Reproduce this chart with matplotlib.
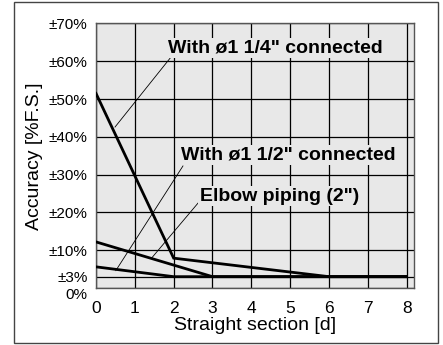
import matplotlib.pyplot as plt
from matplotlib.patches import Rectangle
from matplotlib.transforms import ScaledTranslation

plt.rcParams['font.family'] = ['Liberation Sans', 'DejaVu Sans']

# data
x_14 = [0, 2, 6, 8]
acc_14 = [51.5, 7.9, 3, 3]        # with ø1 1/4" connected
x_12 = [0, 2, 8]
acc_12 = [5.6, 3, 3]              # with ø1 1/2" connected
x_elbow = [0, 3, 8]
acc_elbow = [12.2, 3, 3]          # elbow piping (2")

xticks = list(range(9))
yticks = [0, 3, 10, 20, 30, 40, 50, 60, 70]
ytick_labels = ['0%', '±3%', '±10%', '±20%', '±30%', '±40%', '±50%', '±60%', '±70%']

# labels: text, text position, leader start, leader end
labels = [
    ('With ø1 1/4" connected', (1.855, 62.4), (0.49, 42.6), (1.93, 61.1)),
    ('With ø1 1/2" connected', (2.19, 34.0), (0.51, 4.6), (2.24, 32.3)),
    ('Elbow piping (2")', (2.68, 23.1), (1.43, 7.9), (2.63, 22.5)),
]

bg = '#e8e8e8'

fig = plt.figure(figsize=(4.43, 3.45), dpi=100)
ax = fig.add_axes([0.2167, 0.1652, 0.7178, 0.7667])
ax.set_facecolor(bg)

for xs, ys in [(x_14, acc_14), (x_12, acc_12), (x_elbow, acc_elbow)]:
    ax.plot(xs, ys, color='black', lw=2.0, solid_joinstyle='miter', zorder=3)

for text, tpos, p0, p1 in labels:
    ax.plot([p0[0], p1[0]], [p0[1], p1[1]], color='black', lw=0.6, zorder=3)
    ax.text(tpos[0], tpos[1], text, fontsize=14, fontweight='bold',
            ha='left', va='baseline', zorder=4,
            bbox=dict(boxstyle='square,pad=0.08', fc=bg, ec='none'))

ax.set_xlim(0, 8.19)
ax.set_ylim(0, 70)
ax.set_xticks(xticks)
ax.set_yticks(yticks)
ax.set_yticklabels(ytick_labels)
ax.tick_params(axis='x', length=0, pad=9, labelsize=12.5)
ax.tick_params(axis='y', length=0, pad=6, labelsize=11)
ax.grid(True, color='black', lw=0.9, zorder=1)
ax.set_axisbelow(True)
for s in ax.spines.values():
    s.set_color('#555555')
    s.set_linewidth(1.0)

# the 0% label sits a little below its gridline in the original
zero_lbl = ax.get_yticklabels()[0]
zero_lbl.set_transform(zero_lbl.get_transform() + ScaledTranslation(0, -4 / 72, fig.dpi_scale_trans))

ax.set_xlabel('Straight section [d]', fontsize=14, labelpad=1)
ax.set_ylabel('Accuracy [%F.S.]', fontsize=14, labelpad=4)

fig.patches.append(Rectangle((0.0316, 0.0058), 0.9571, 0.988,
                             transform=fig.transFigure, fill=False,
                             ec='#444444', lw=1.0))

fig.savefig('out.png', dpi=100)
